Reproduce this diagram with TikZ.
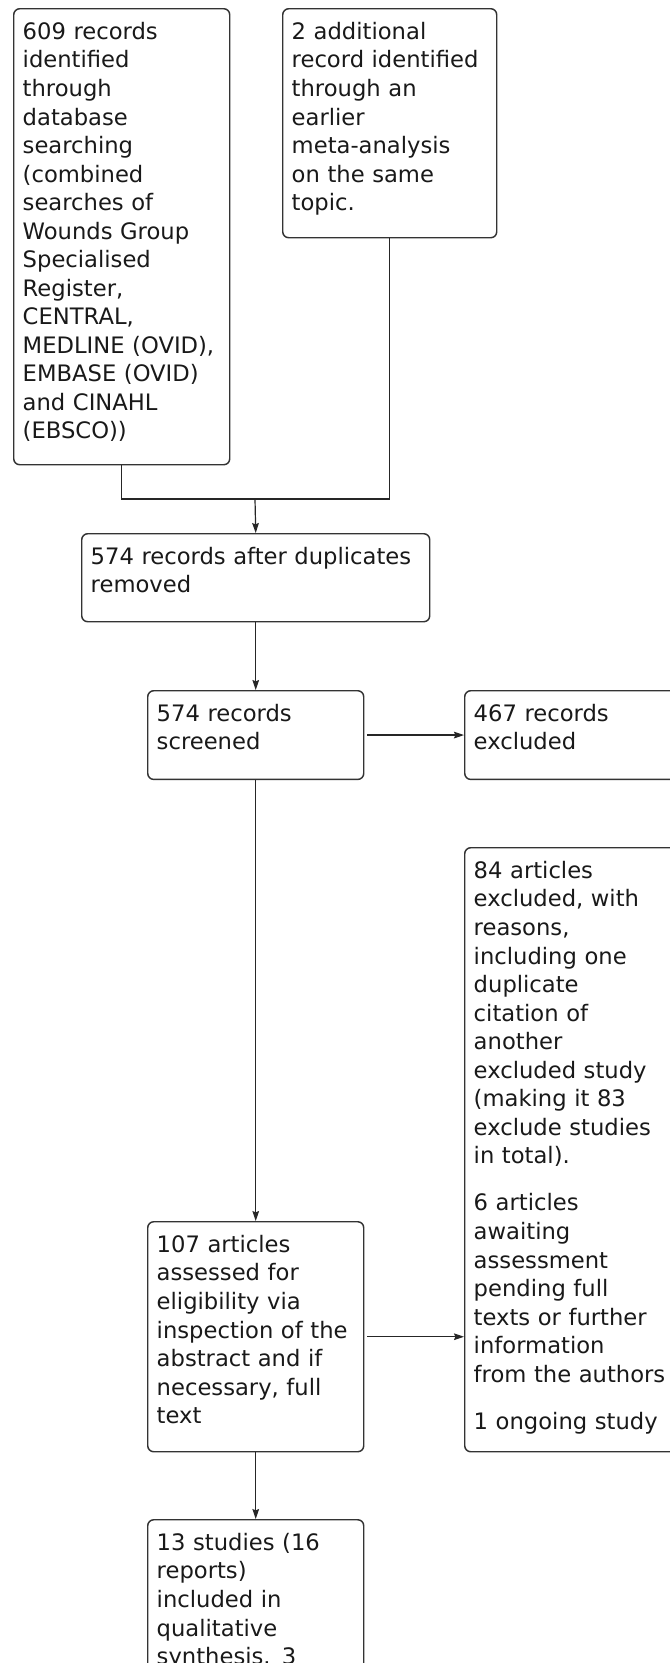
\documentclass[tikz,border=0pt]{standalone}
\usepackage{fontspec}
\setmainfont{DejaVu Sans}
\usepackage{tikz}
\usetikzlibrary{arrows.meta, positioning}

\begin{document}
\begin{tikzpicture}[
  x=0.75pt, y=-0.75pt,
  arrow/.style={-{Stealth[length=7.5pt, width=5pt, inset=1pt]}, line width=0.9pt, draw=black!85},
  link/.style={line width=0.9pt, draw=black!85},
  flowbox/.style={draw=black!80, line width=1.1pt, rounded corners=4.5pt, anchor=north west,
    text width=148.5pt, align=left, inner xsep=6.75pt, inner ysep=0pt, text height=23pt,
    font=\fontsize{17pt}{21.4pt}\selectfont, text=black!90}
]
  \useasboundingbox (0,0) rectangle (670,1663);
  \clip (0,0) rectangle (670,1663);

  % Identification
  \node (search) [flowbox, text depth=319pt] at (13,8) {609 records\\ identified\\ through\\ database\\ searching\\ (combined\\ searches of\\ Wounds Group\\ Specialised\\ Register,\\ CENTRAL,\\ MEDLINE (OVID),\\ EMBASE (OVID)\\ and CINAHL\\ (EBSCO))};
  \node (extra) [flowbox, text width=147pt, text depth=148.75pt] at (282,8) {2 additional\\ record identified\\ through an\\ earlier\\ meta-analysis\\ on the same\\ topic.};

  % Screening
  \node (dedup) [flowbox, text width=247.5pt, text depth=43pt] at (81,533) {574 records after duplicates\\ removed};
  \node (screened) [flowbox, text depth=43.5pt] at (147,690) {574 records\\ screened};
  \node (excl) [flowbox, text depth=43.5pt] at (464,690) {467 records\\ excluded};

  % Eligibility
  \node (fulltext) [flowbox, text depth=149.5pt] at (147,1221) {107 articles\\ assessed for\\ eligibility via\\ inspection of the\\ abstract and if\\ necessary, full\\ text};
  \node (reasons) [flowbox, text depth=430pt] at (464,847) {84 articles\\ excluded, with\\ reasons,\\ including one\\ duplicate\\ citation of\\ another\\ excluded study\\ (making it 83\\ exclude studies\\ in total).\\[14pt] 6 articles\\ awaiting\\ assessment\\ pending full\\ texts or further\\ information\\ from the authors\\[14pt] 1 ongoing study};

  % Included
  \node (included) [flowbox, text depth=200pt] at (147,1519) {13 studies (16\\ reports)\\ included in\\ qualitative\\ synthesis. 3};

  % Connectors
  \coordinate (merge) at (255,499);
  \draw[link] (search.south) |- (merge) -| (extra.south);
  \draw[arrow] (merge) -- (dedup.north);
  \draw[arrow] (dedup.south) -- (screened.north);
  \draw[arrow, shorten <=2pt] (screened.east) -- (excl.west);
  \draw[arrow] (screened.south) -- (fulltext.north);
  \draw[arrow, shorten <=2pt] (fulltext.east) -- (fulltext.east -| reasons.west);
  \draw[arrow] (fulltext.south) -- (included.north);

\end{tikzpicture}
\end{document}
